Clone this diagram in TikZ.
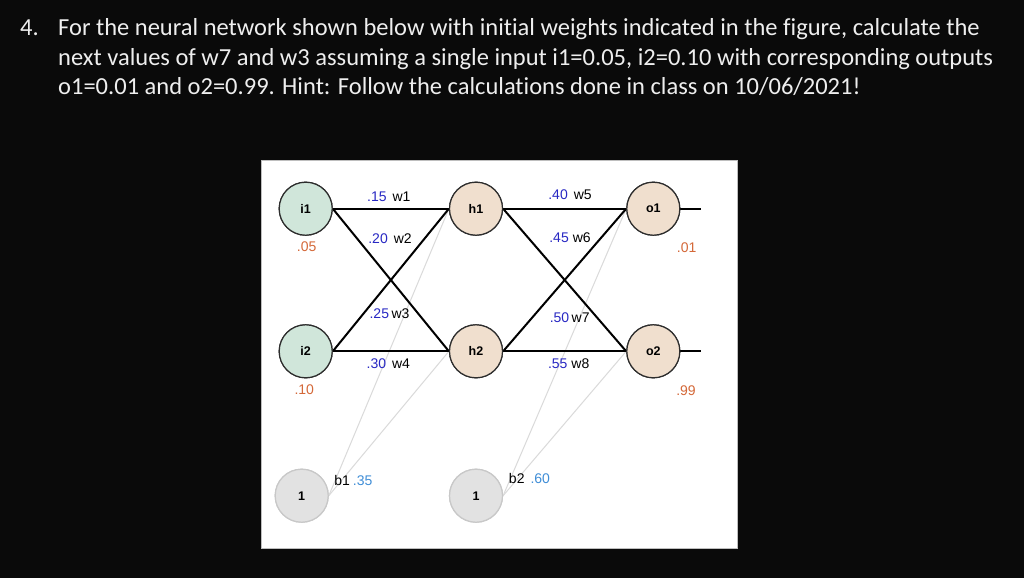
\documentclass[tikz,border=0pt]{standalone}
\usepackage{fontspec}
\setmainfont{Carlito}[Ligatures=NoCommon]
\newfontfamily\labfont{Liberation Sans}
\definecolor{bgblack}{RGB}{10,10,10}
\definecolor{txtwhite}{RGB}{238,238,238}
\definecolor{infill}{RGB}{208,230,218}
\definecolor{hidfill}{RGB}{240,223,206}
\definecolor{biasfill}{RGB}{226,226,226}
\definecolor{biasdraw}{RGB}{200,200,200}
\definecolor{nodedraw}{RGB}{45,45,45}
\definecolor{wblue}{RGB}{40,40,195}
\definecolor{valorange}{RGB}{212,104,56}
\definecolor{bblue}{RGB}{64,142,215}
\definecolor{graylink}{RGB}{218,218,218}
\definecolor{panelborder}{RGB}{190,190,190}
\begin{document}
\begin{tikzpicture}[x=1pt,y=-1pt,
  neuron/.style={circle,minimum size=53pt,inner sep=0pt,draw=nodedraw,line width=1.2pt,
     font=\labfont\bfseries\fontsize{12.5}{14}\selectfont},
  inneuron/.style={neuron,fill=infill},
  hidneuron/.style={neuron,fill=hidfill},
  biasneuron/.style={neuron,fill=biasfill,draw=biasdraw},
  wlabel/.style={inner sep=0pt,font=\labfont\fontsize{14}{16}\selectfont,text=black},
  vlabel/.style={inner sep=0pt,font=\labfont\fontsize{14}{16}\selectfont,text=valorange},
  link/.style={line width=2pt,black},
  blink/.style={line width=1pt,graylink},
  qline/.style={anchor=base west,inner sep=0pt,text=txtwhite,font=\fontsize{24.5}{29}\selectfont}
]
\useasboundingbox (0,0) rectangle (1024,578);
\fill[bgblack] (0,0) rectangle (1024,578);

% question text
\node[qline] (num) at (20,36) {4.};
\node[qline] (l1) at (58,36) {For the neural network shown below with initial weights indicated in the figure, calculate the};
\node[qline] (l2) at (58,65.3) {next values of w7 and w3 assuming a single input i1=0.05, i2=0.10 with corresponding outputs};
\node[qline] (l3) at (58,94.5) {o1=0.01 and o2=0.99. Hint: Follow the calculations done in class on 10/06/2021!};

% white panel
\fill[white,draw=panelborder,line width=0.6pt] (261,160) rectangle (737,548);

% neurons
\node[inneuron] (i1) at (305.7,208.7) {i1};
\node[inneuron] (i2) at (305.7,351.3) {i2};
\node[hidneuron] (h1) at (476,208.7) {h1};
\node[hidneuron] (h2) at (476,351.3) {h2};
\node[hidneuron] (o1) at (653.3,208.7) {o1};
\node[hidneuron] (o2) at (653.3,351.3) {o2};
\node[biasneuron] (b1) at (301.7,495.7) {1};
\node[biasneuron] (b2) at (476,495.7) {1};
\coordinate (out1) at (700.7,208.7);
\coordinate (out2) at (700.7,351.3);

% bias links
\draw[blink] (b1.east) -- (h1.west);
\draw[blink] (b1.east) -- (h2.west);
\draw[blink] (b2.east) -- (o1.west);
\draw[blink] (b2.east) -- (o2.west);

% weight links
\draw[link] (i1.east) -- (h1.west);
\draw[link] (i1.east) -- (h2.west);
\draw[link] (i2.east) -- (h1.west);
\draw[link] (i2.east) -- (h2.west);
\draw[link] (h1.east) -- (o1.west);
\draw[link] (h1.east) -- (o2.west);
\draw[link] (h2.east) -- (o1.west);
\draw[link] (h2.east) -- (o2.west);
\draw[link] (o1.east) -- (out1);
\draw[link] (o2.east) -- (out2);

% redraw neurons on top
\node[inneuron] at (i1) {i1};
\node[inneuron] at (i2) {i2};
\node[hidneuron] at (h1) {h1};
\node[hidneuron] at (h2) {h2};
\node[hidneuron] at (o1) {o1};
\node[hidneuron] at (o2) {o2};
\node[biasneuron] at (b1) {1};
\node[biasneuron] at (b2) {1};

% weight labels
\node[wlabel] (lw1) at (388.8,196.3) {\textcolor{wblue}{.15}\hspace{6pt}w1};
\node[wlabel] (lw2) at (390,239) {\textcolor{wblue}{.20}\hspace{6pt}w2};
\node[wlabel] (lw3) at (389.5,314) {\textcolor{wblue}{.25}\hspace{2.5pt}w3};
\node[wlabel] (lw4) at (388.3,363.3) {\textcolor{wblue}{.30}\hspace{6pt}w4};
\node[wlabel] (lw5) at (570,194.7) {\textcolor{wblue}{.40}\hspace{6pt}w5};
\node[wlabel] (lw6) at (570,237.3) {\textcolor{wblue}{.45}\hspace{4pt}w6};
\node[wlabel] (lw7) at (569.7,317.3) {\textcolor{wblue}{.50}\hspace{2.5pt}w7};
\node[wlabel] (lw8) at (568.7,363.3) {\textcolor{wblue}{.55}\hspace{4pt}w8};
\node[wlabel] (lb1) at (353.3,480) {b1\hspace{3pt}\textcolor{bblue}{.35}};
\node[wlabel] (lb2) at (529.5,478.3) {b2\hspace{6pt}\textcolor{bblue}{.60}};

% value labels
\node[vlabel] (v1) at (306.7,246.3) {.05};
\node[vlabel] (v2) at (304.3,390) {.10};
\node[vlabel] (v3) at (686.7,247.3) {.01};
\node[vlabel] (v4) at (686,390.7) {.99};
\end{tikzpicture}
\end{document}
